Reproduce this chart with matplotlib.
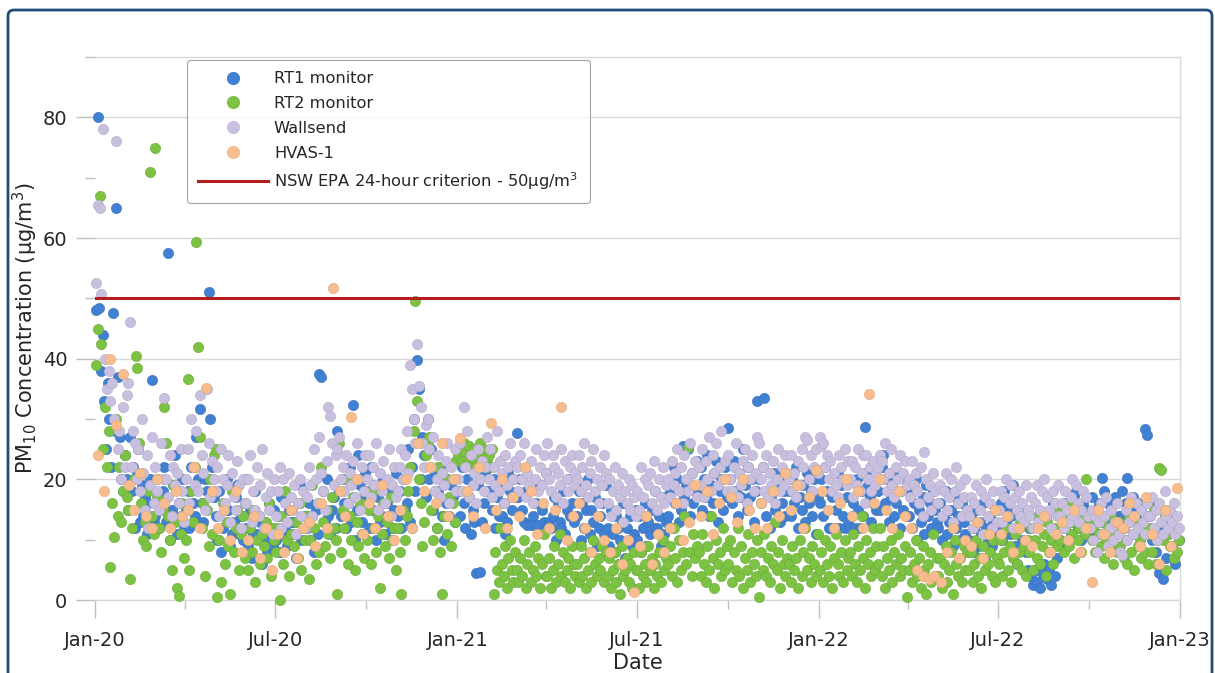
import numpy as np
import pandas as pd
import matplotlib
matplotlib.use('Agg')
import matplotlib.pyplot as plt
import matplotlib.dates as mdates
from matplotlib.patches import FancyBboxPatch
from matplotlib.lines import Line2D

# daily PM10 readings, grouped by month (Jan-20 .. Dec-22)
rt1 = [
    [48, 80, 48.4, 38, 44, 33, 25, 36, 30, 22, 47.5, 28, 65, 37, 27, 20, 18, 24],
    [20, 15, 27, 18, 22, 12, 21, 25, 13, 19, 14, 17, 11, 16, 20, 36.4, 13],
    [14, 20, 12, 17, 18, 22, 13, 57.5, 10, 15, 19, 24, 11, 16, 14, 20, 12],
    [15, 18, 12, 22, 16, 14, 27, 20, 31.7, 16, 13, 20, 18, 51, 30, 22, 17],
    [14, 10, 18, 8, 12, 15, 20, 15, 9, 11, 13, 17, 19, 11, 14, 10, 16],
    [12, 9, 15, 7, 11, 18, 11, 14, 13, 6, 13, 10, 8, 16, 12, 9, 15],
    [10, 14, 8, 17, 11, 12, 9, 15, 13, 11, 13, 7, 16, 19, 10, 12, 14],
    [12, 16, 10, 14, 8, 15, 11, 37.5, 36.9, 18, 13, 20, 14, 11, 15, 17, 12],
    [28, 18, 14, 20, 16, 12, 16, 22, 13, 32.4, 10, 15, 24, 19, 13, 17, 21],
    [18, 12, 22, 15, 19, 10, 17, 13, 14, 20, 11, 16, 14, 18, 12, 15, 21],
    [14, 18, 12, 20, 15, 16, 25, 13, 22, 30, 18, 39.7, 35, 20, 27, 24, 17],
    [30, 20, 25, 15, 21, 12, 18, 22, 14, 10, 16, 20, 14, 19, 17, 13, 23],
    [18, 14, 22, 16, 12, 20, 17, 11, 15, 13, 4.5, 19, 4.6, 13, 16, 21, 18],
    [22, 18, 15, 20, 12, 17, 14, 19, 14, 16, 11, 13, 21, 18, 15, 20, 17],
    [27.6, 17, 20, 15, 13, 18, 12.5, 18, 12.5, 14, 12.5, 16, 12.5, 19, 15, 13, 21],
    [12.5, 13, 12, 14, 17, 10, 16, 13, 12, 18, 11, 15, 20, 14, 16, 13, 19],
    [14, 18, 10, 16, 12, 15, 20, 11, 15, 13, 17, 9, 12, 14, 16, 11, 19],
    [12, 9, 15, 11, 8, 14, 12, 10, 13, 16, 7, 12, 10, 14, 9, 11, 15],
    [10, 14, 8, 12, 16, 9, 13, 11, 15, 12, 18, 12, 14, 9, 17, 11, 13],
    [14, 18, 12, 22, 16, 20, 13, 15, 25.5, 17, 19, 25, 14, 21, 16, 18, 23],
    [18, 22, 15, 20, 17, 24, 14, 19, 16, 21, 23, 13, 18, 20, 15, 22, 17],
    [28.5, 20, 16, 23, 18, 14, 21, 17, 25, 19, 15, 22, 17, 20, 13, 18, 33],
    [20, 16, 22, 33.5, 14, 18, 12, 17, 21, 15, 19, 21, 13, 16, 18, 14, 20],
    [18, 14, 20, 16, 22, 12, 17, 15, 19, 13, 21, 16, 18, 14, 20, 11, 17],
    [16, 20, 14, 22, 18, 12, 12, 17, 12, 15, 21, 12, 19, 14, 12, 17, 13],
    [12, 14, 16, 12, 20, 15, 12, 18, 14, 28.7, 21, 19, 17, 13, 16, 22, 15],
    [18, 15, 22, 24, 16, 20, 13, 17, 19, 14, 16, 21, 12, 18, 15, 20, 14],
    [14, 18, 12, 16, 20, 10, 15, 13, 17, 11, 19, 14, 16, 12, 18, 15, 13],
    [12, 16, 10, 14, 18, 11, 13, 15, 9, 17, 12, 14, 10, 16, 13, 11, 15],
    [10, 14, 8, 12, 15, 9, 13, 11, 16, 7, 12, 10, 14, 9, 13, 11, 15],
    [12, 16, 10, 18, 13, 15, 11, 14, 19, 9, 6, 12, 15, 10, 13, 8, 5],
    [12, 4, 2.5, 5, 3, 14, 2, 4.5, 6, 14, 3.5, 5, 2.5, 16, 4, 7, 15],
    [10, 14, 12, 16, 9, 15, 11, 13, 17, 18, 12, 14, 10, 16, 13, 15, 11],
    [14, 17, 12, 15, 11, 16, 13, 20.3, 18, 14, 16, 12, 15, 13, 17, 11, 14],
    [14, 18, 12, 16, 20.3, 13, 15, 17, 11, 14, 16, 12, 15, 13, 28.4, 27.3, 14],
    [14, 10, 16, 8, 12, 4.5, 12, 3.5, 15, 7, 11, 13, 9, 14, 6, 12, 10],
]

rt2 = [
    [39, 45, 67, 42.5, 25, 32, 22, 28, 5.5, 16, 10.5, 30, 14, 22, 13, 18, 24],
    [17, 15, 3.5, 12, 20, 40.5, 38.5, 26, 16, 10, 13, 9, 18, 71, 14, 11],
    [75, 17, 12, 8, 15, 32, 26, 14, 10, 5, 19, 13, 2, 0.7, 11, 16, 7],
    [10, 36.7, 5, 18, 13, 22, 59.4, 42, 27, 12, 16, 4, 15, 9, 20, 11, 24],
    [25, 0.5, 10, 3, 16, 6, 13, 9, 1, 18, 8, 12, 15, 5, 11, 14, 7],
    [20, 5, 12, 8, 15, 3, 10, 14, 6, 11, 9, 13, 7, 16, 4, 12, 10],
    [8, 12, 0, 14, 6, 18, 10, 4, 11, 15, 9, 13, 7, 16, 5, 12, 10],
    [14, 3.5, 10, 19, 12, 6, 16, 8, 22, 13, 9, 15, 11, 7, 17, 12, 10],
    [1, 26, 8, 15, 12, 20, 6, 14, 10, 17, 5, 13, 9, 16, 11, 7, 18],
    [10, 15, 6, 18, 12, 8, 14, 2, 11, 16, 9, 13, 7, 17, 10, 12, 5],
    [12, 8, 1, 15, 10, 14, 18, 22, 12, 28, 49.5, 33, 20, 16, 9, 13, 24],
    [26, 27, 15, 10, 18, 12, 22, 8, 1, 14, 20, 11, 17, 9, 16, 13, 23],
    [24, 25, 23, 26, 24.5, 22.5, 25.5, 24, 23.5, 25, 22, 24, 26, 23, 25, 24.5, 23],
    [24, 22, 25, 1, 8, 5, 3, 12, 6, 4, 9, 2, 7, 10, 5, 3, 8],
    [5, 3, 7, 4, 10, 2, 6, 8, 3, 5, 9, 4, 7, 2, 6, 11, 4],
    [4, 7, 2, 5, 9, 3, 6, 11, 4, 8, 3, 5, 7, 2, 9, 6, 4],
    [6, 3, 9, 4, 7, 2, 5, 8, 3, 10, 6, 4, 7, 5, 9, 3, 8],
    [4, 7, 2, 5, 8, 3, 6, 1, 9, 4, 5, 7, 3, 6, 2, 8, 5],
    [5, 2, 8, 4, 6, 3, 9, 5, 7, 2, 6, 4, 8, 3, 10, 5, 7],
    [6, 9, 4, 12, 7, 3, 10, 5, 8, 14, 6, 25.3, 8, 4, 11, 7, 9],
    [8, 4, 11, 6, 3, 9, 5, 14, 7, 2, 10, 6, 8, 4, 12, 5, 9],
    [6, 10, 3, 8, 5, 12, 4, 9, 2, 7, 5, 11, 3, 8, 6, 4, 10],
    [0.5, 8, 5, 11, 4, 7, 3, 9, 6, 13, 5, 8, 2, 10, 6, 4, 7],
    [6, 3, 9, 5, 7, 2, 10, 4, 8, 12, 5, 7, 3, 9, 6, 4, 11],
    [5, 8, 3, 10, 6, 4, 9, 2, 7, 11, 6, 4, 8, 3, 10, 5, 7],
    [8, 4, 11, 6, 3, 9, 5, 14, 7, 2, 10, 6, 8, 4, 12, 5, 9],
    [6, 12, 4, 9, 2, 7, 5, 10, 3, 8, 6, 11, 4, 7, 5, 9, 0.5],
    [5, 8, 3, 6, 10, 4, 7, 2, 9, 5, 1, 6, 8, 3, 11, 4, 7],
    [4, 7, 2, 6, 9, 3, 5, 8, 1, 10, 6, 4, 7, 3, 9, 5, 8],
    [5, 8, 3, 6, 10, 4, 7, 2, 9, 5, 11, 6, 8, 4, 10, 3, 7],
    [6, 10, 4, 8, 12, 5, 9, 3, 7, 11, 6, 8, 13, 5, 9, 4, 10],
    [8, 12, 5, 10, 7, 14, 6, 9, 11, 4, 13, 8, 10, 6, 12, 9, 15],
    [10, 14, 8, 12, 16, 9, 13, 11, 7, 15, 10, 12, 8, 14, 11, 20, 13],
    [14, 10, 12, 8, 15, 11, 9, 13, 7, 10, 12, 9, 14, 6, 11, 8, 13],
    [9, 12, 7, 10, 6, 14, 8, 11, 5, 13, 9, 10, 7, 12, 8, 11, 6],
    [12, 8, 15, 6, 10, 21.8, 21.5, 10, 14, 5, 11, 9, 13, 7, 12, 8, 10],
]

wallsend = [
    [52.5, 65.5, 65, 50.7, 78, 40, 35, 38, 33, 36, 30, 76, 25, 28, 20, 32, 22],
    [34, 36, 46, 22, 28, 26, 20, 25, 18, 30, 21, 15, 24, 12, 19, 27, 16],
    [22, 18, 15, 26, 20, 33.5, 20, 17, 24, 14, 22, 19, 21, 16, 25, 18, 13],
    [20, 25, 16, 30, 22, 19, 28, 18, 34, 24, 21, 15, 35, 26, 17, 23, 20],
    [18, 22, 14, 25, 20, 16, 19, 24, 13, 21, 17, 15, 23, 19, 12, 20, 16],
    [16, 20, 24, 13, 18, 15, 22, 14, 19, 25, 12, 17, 21, 15, 18, 11, 20],
    [14, 18, 22, 12, 20, 16, 13, 21, 17, 15, 19, 11, 16, 20, 14, 18, 12],
    [17, 22, 19, 14, 25, 20, 16, 27, 21, 18, 15, 23, 32, 30.5, 26, 19, 24],
    [25, 27, 20, 22, 18, 24, 16, 21, 19, 23, 17, 26, 20, 15, 22, 18, 24],
    [20, 24, 17, 22, 19, 26, 15, 21, 18, 23, 16, 20, 25, 14, 19, 22, 17],
    [18, 22, 25, 20, 24, 28, 21, 39, 35, 30, 26, 42.5, 35.5, 32, 26, 22, 29],
    [30, 25, 22, 27, 18, 20, 24, 17, 21, 19, 23, 26, 16, 22, 20, 25, 18],
    [20, 26, 18, 32, 22, 28, 17, 24, 19, 21, 16, 25, 20, 23, 18, 22, 27],
    [20, 25, 17, 22, 19, 28, 18, 23, 21, 16, 24, 19, 22, 26, 17, 20, 23],
    [22, 18, 24, 20, 26, 17, 21, 19, 23, 16, 20, 25, 18, 22, 19, 24, 21],
    [26, 20, 18, 24, 22, 17, 21, 19, 25, 16, 23, 20, 18, 22, 24, 19, 21],
    [20, 24, 18, 22, 26, 19, 17, 21, 23, 25, 18, 20, 16, 22, 19, 24, 21],
    [16, 20, 14, 18, 22, 15, 19, 17, 21, 13, 18, 16, 20, 15, 19, 17, 14],
    [18, 15, 22, 17, 20, 14, 19, 21, 16, 23, 18, 15, 20, 17, 22, 16, 19],
    [20, 17, 23, 19, 21, 25, 18, 22, 16, 24, 20, 18, 26, 21, 19, 23, 17],
    [22, 19, 25, 17, 23, 20, 27, 18, 24, 21, 26, 19, 22, 28, 20, 23, 18],
    [24, 20, 18, 22, 26, 17, 21, 19, 23, 25, 16, 22, 20, 24, 18, 21, 27],
    [26, 20, 22, 18, 24, 17, 21, 19, 23, 16, 20, 25, 18, 22, 19, 24, 21],
    [20, 24, 18, 21, 17, 23, 19, 25, 22, 27, 26.5, 20, 24, 18, 22, 25, 21],
    [27, 25.5, 26, 22, 24, 20, 23, 18, 21, 19, 17, 24, 22, 20, 25, 19, 23],
    [20, 23, 17, 22, 19, 25, 18, 21, 24, 16, 24, 20, 22, 18, 23, 19, 21],
    [22, 24, 23, 20, 26, 18, 21, 25, 19, 17, 22, 20, 24, 18, 21, 23, 19],
    [20, 17, 23, 19, 21, 18, 16, 22, 14, 24.6, 20, 17, 19, 15, 21, 18, 16],
    [16, 19, 14, 18, 21, 15, 17, 20, 13, 18, 22, 16, 19, 14, 17, 20, 15],
    [14, 17, 12, 16, 19, 13, 15, 18, 11, 17, 20, 14, 16, 12, 18, 15, 13],
    [15, 18, 13, 17, 20, 14, 16, 19, 12, 17, 15, 18, 14, 16, 13, 19, 15],
    [14, 17, 12, 16, 19, 13, 15, 18, 20, 14, 17, 15, 12, 18, 16, 14, 19],
    [14, 16, 12, 18, 15, 13, 17, 20, 14, 19, 16, 13, 15, 18, 12, 17, 14],
    [12, 15, 10, 14, 8, 13, 16, 11, 14, 17, 9, 12, 15, 10, 13, 16, 11],
    [8, 7.5, 12, 15, 10, 13, 17, 11, 14, 16, 12, 9, 15, 13, 11, 16, 14],
    [14, 17, 12, 15, 10, 16, 13, 11, 18, 14, 12, 15, 13, 16, 11, 14, 12],
]

hvas = [
    [24, 18, 40, 29, 37.5], [19, 15, 21, 14, 12], [20, 16, 12, 18, 14],
    [15, 22, 12, 35.2, 18], [12, 15, 10, 18, 8], [10, 14, 7, 12, 5],
    [11, 8, 15, 7, 12], [13, 9, 16, 12, 51.7], [18, 14, 30.4, 20, 11],
    [16, 12, 19, 14, 10], [15, 20, 12, 26, 18], [22, 16, 26, 14, 20],
    [26.8, 18, 14, 22, 12], [29.4, 15, 20, 12, 17], [14, 22, 18, 11, 16],
    [12, 15, 32, 10, 14], [16, 12, 8, 14, 10], [8, 12, 6, 10, 1.3],
    [9, 14, 6, 11, 8], [12, 16, 10, 13, 19], [14, 18, 11, 16, 20],
    [17, 13, 20, 15, 12], [16, 12, 18, 14, 21], [15, 19, 12, 17, 21.6],
    [18, 15, 12, 16, 20], [14, 18, 12, 34.2, 16], [20, 15, 12, 18, 14],
    [12, 5, 4, 3.5, 4], [3, 8, 12, 7, 10], [9, 13, 7, 11, 15],
    [11, 14, 8, 12, 10], [9, 12, 14, 8, 11], [13, 10, 15, 8, 12],
    [3, 15, 11, 8, 13], [12, 16, 14, 9, 17], [11, 6, 15, 9, 18.5],
]

labels = ['RT1 monitor', 'RT2 monitor', 'Wallsend', 'HVAS-1']
colors = ['#4181d4', '#7cc243', '#c9bfde', '#f8bd8f']
edges = ['#3a6fb8', '#6aa83a', '#b4aacb', '#e0a678']
criterion = 50


def to_dates(monthly):
    # spread each month's readings across the days of that month
    dates, vals = [], []
    for m, block in enumerate(monthly):
        start = pd.Timestamp('2020-01-01') + pd.DateOffset(months=m)
        nd = start.days_in_month
        for i, v in enumerate(block):
            dates.append(start + pd.Timedelta(days=(i + 0.5) * nd / len(block)))
            vals.append(v)
    return dates, vals


plt.rcParams['font.family'] = ['DejaVu Sans']

fig = plt.figure(figsize=(12.15, 6.73), dpi=100)
ax = fig.add_axes([95 / 1215, 1 - 600 / 673, 1085 / 1215, 543 / 673])

series = [rt1, rt2, wallsend, hvas]
order = [2, 0, 1, 3]  # Wallsend at the back, HVAS on top
for k in order:
    d, v = to_dates(series[k])
    ax.scatter(d, v, s=55, color=colors[k], edgecolors=edges[k], linewidths=0.4,
               zorder=3 + k * 0.1, clip_on=False)

ax.axhline(criterion, color='#b41e1e', lw=2.2, zorder=5)

ax.set_xlim(pd.Timestamp('2020-01-01'), pd.Timestamp('2023-01-01'))
ax.set_ylim(0, 90)
ax.xaxis.set_major_locator(mdates.MonthLocator(bymonth=[1, 7]))
ax.xaxis.set_minor_locator(mdates.MonthLocator(bymonth=[4, 10]))
ax.xaxis.set_major_formatter(mdates.DateFormatter('%b-%y'))
ax.set_yticks([0, 20, 40, 60, 80])
ax.set_yticks([10, 30, 50, 70, 90], minor=True)
ax.yaxis.grid(True, which='major', color='#d9d9d9', lw=1)
ax.set_axisbelow(True)

ax.tick_params(axis='x', which='major', length=13, width=1, color='#bfbfbf', labelsize=14, pad=9, labelcolor='#262626')
ax.tick_params(axis='x', which='minor', length=6.5, width=1, color='#bfbfbf')
ax.tick_params(axis='y', which='major', length=14, width=1, color='#bfbfbf', labelsize=14, pad=6, labelcolor='#262626')
ax.tick_params(axis='y', which='minor', length=7, width=1, color='#bfbfbf')

ax.spines['left'].set_visible(False)
for s in ['top', 'right', 'bottom']:
    ax.spines[s].set_color('#d9d9d9')
    ax.spines[s].set_linewidth(1)

ax.set_ylabel('PM$_{10}$ Concentration (µg/m$^3$)', fontsize=15, color='#262626')
ax.yaxis.set_label_coords(-0.051, 0.5)
ax.set_xlabel('Date', fontsize=15, color='#262626')
ax.xaxis.set_label_coords(0.5, -0.098)

handles = [Line2D([], [], ls='none', marker='o', markersize=9.5, color=c, markeredgecolor='none') for c in colors]
handles.append(Line2D([], [], color='#b41e1e', lw=2.2))
leg = fig.legend(handles, labels + ['NSW EPA 24-hour criterion - 50µg/m$^3$'],
                 loc='upper left', bbox_to_anchor=(187 / 1215, 1 - 60 / 673),
                 fontsize=11.7, frameon=True, fancybox=True, handlelength=4.3,
                 handletextpad=0.35, labelspacing=0.6, borderpad=0.7, borderaxespad=0)
leg.get_frame().set_edgecolor('#8c8c8c')
leg.get_frame().set_linewidth(0.8)
for t in leg.get_texts():
    t.set_color('#262626')

frame = FancyBboxPatch((0.08, -0.3), 12.04, 6.63 + 0.3,
                       boxstyle='round,pad=0,rounding_size=0.06',
                       transform=fig.dpi_scale_trans, fill=False,
                       edgecolor='#1f4e79', lw=2, clip_on=False)
fig.add_artist(frame)

fig.savefig('out.png', dpi=100)
